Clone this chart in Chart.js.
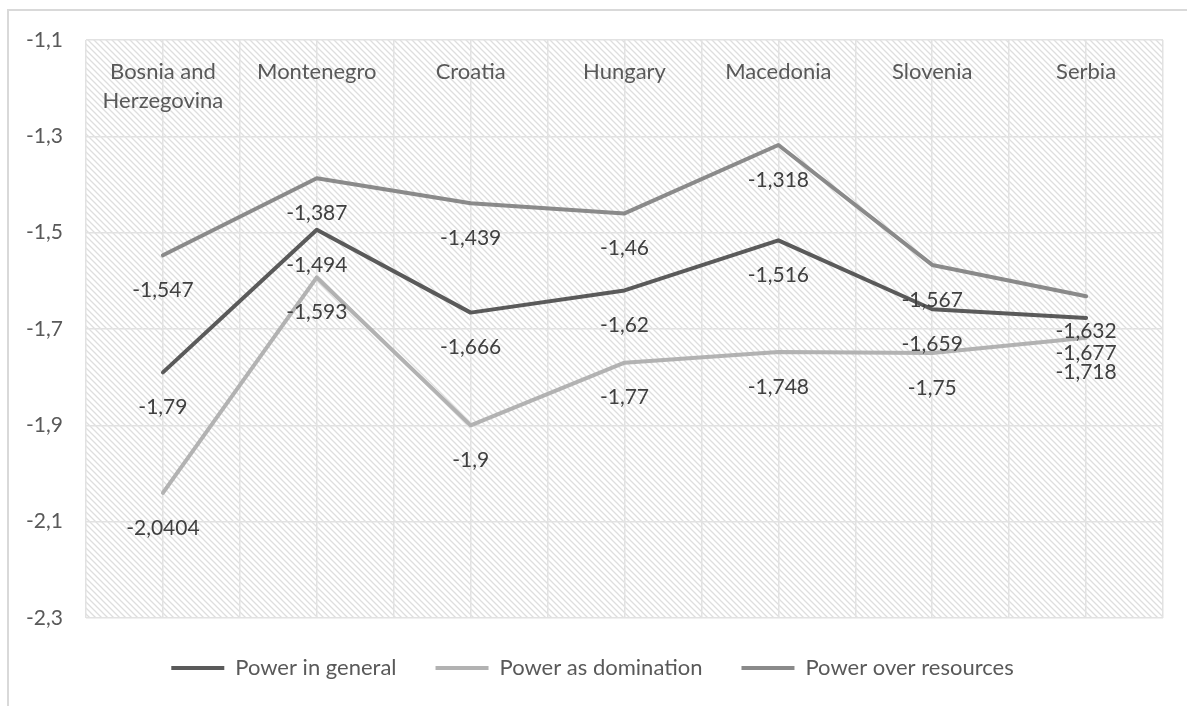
<!DOCTYPE html>
<html>
<head>
<meta charset="utf-8">
<script src="https://cdn.jsdelivr.net/npm/chart.js@4.4.0/dist/chart.umd.min.js"></script>
<style>
  html, body { margin: 0; padding: 0; background: #fff; overflow: hidden; }
  #wrap { position: relative; width: 1187px; height: 706px; }
  #frame { position: absolute; left: 7px; top: 9px; width: 1200px; height: 720px; border: 2px solid #d9d9d9; pointer-events: none; }
  canvas { position: absolute; left: 0; top: 0; }
</style>
</head>
<body>
<div id="wrap">
  <canvas id="power-chart" width="1187" height="706"></canvas>
  <div id="frame"></div>
</div>
<script>
var countries = [["Bosnia and", "Herzegovina"], "Montenegro", "Croatia", "Hungary", "Macedonia", "Slovenia", "Serbia"];
var powerGeneral = [-1.79, -1.494, -1.666, -1.62, -1.516, -1.659, -1.677];
var powerDomination = [-2.0404, -1.593, -1.9, -1.77, -1.748, -1.75, -1.718];
var powerResources = [-1.547, -1.387, -1.439, -1.46, -1.318, -1.567, -1.632];
var yTicks = [-2.3, -2.1, -1.9, -1.7, -1.5, -1.3, -1.1];

var gridColor = '#e2e2e2';
var textColor = '#595959';

Chart.defaults.font.family = 'Lato';
Chart.defaults.font.size = 21;

// diagonal stripes behind the plot
function stripes(ctx) {
	var c = document.createElement('canvas');
	c.width = 6; c.height = 6;
	var g = c.getContext('2d');
	g.fillStyle = '#fff';
	g.fillRect(0, 0, 6, 6);
	g.strokeStyle = '#dedede';
	g.lineWidth = 1.3;
	g.beginPath();
	g.moveTo(-1, -1); g.lineTo(7, 7);
	g.moveTo(-1, 5); g.lineTo(1, 7);
	g.moveTo(5, -1); g.lineTo(7, 1);
	g.stroke();
	return ctx.createPattern(c, 'repeat');
}

var plotFill = {
	id: 'plotFill',
	beforeDraw: function(chart) {
		var a = chart.chartArea, ctx = chart.ctx;
		ctx.save();
		ctx.fillStyle = '#fff';
		ctx.fillRect(0, 0, chart.width, chart.height);
		ctx.fillStyle = stripes(ctx);
		ctx.fillRect(a.left, a.top, a.right - a.left, a.bottom - a.top);
		ctx.restore();
	}
};

// value under every point, decimal comma
var valueLabels = {
	id: 'valueLabels',
	afterDatasetsDraw: function(chart) {
		var ctx = chart.ctx;
		ctx.save();
		ctx.font = '21px Lato';
		ctx.fillStyle = '#404040';
		ctx.textAlign = 'center';
		ctx.textBaseline = 'middle';
		chart.data.datasets.forEach(function(ds, i) {
			chart.getDatasetMeta(i).data.forEach(function(pt, j) {
				ctx.fillText(String(ds.data[j]).replace('.', ','), pt.x, pt.y + 35);
			});
		});
		ctx.restore();
	}
};

function series(label, data, color) {
	return {
		label: label,
		data: data,
		borderColor: color,
		backgroundColor: color,
		borderWidth: 4,
		borderCapStyle: 'round',
		borderJoinStyle: 'round',
		pointRadius: 0,
		fill: false,
		tension: 0
	};
}

var ctx = document.getElementById('power-chart').getContext('2d');
var powerChart = new Chart(ctx, {
	type: 'line',
	data: {
		labels: countries,
		datasets: [
			series('Power in general', powerGeneral, '#5a5a5a'),
			series('Power as domination', powerDomination, '#b2b2b2'),
			series('Power over resources', powerResources, '#8a8a8a')
		]
	},
	options: {
		responsive: false,
		animation: false,
		devicePixelRatio: 1,
		layout: { padding: { top: 40, left: 22, right: 24, bottom: 17 } },
		plugins: {
			tooltip: { enabled: false },
			legend: {
				position: 'bottom',
				labels: {
					color: textColor,
					font: { size: 22 },
					usePointStyle: true,
					pointStyle: 'line',
					pointStyleWidth: 53,
					padding: 39
				}
			}
		},
		scales: {
			x: {
				position: 'top',
				offset: true,
				afterFit: function(s) { s.height = 0; },
				grid: { offset: true, color: gridColor, lineWidth: 1.5, drawTicks: false },
				border: { display: false },
				ticks: {
					color: textColor,
					mirror: true,
					padding: -11.4,
					maxRotation: 0,
					autoSkip: false,
					crossAlign: 'far',
					font: { size: 22, lineHeight: 1.32 }
				}
			},
			// second category axis only for the lines through the category centres
			x2: {
				type: 'category',
				position: 'top',
				offset: true,
				afterFit: function(s) { s.height = 0; },
				grid: { offset: false, color: gridColor, lineWidth: 1.5, drawTicks: false },
				border: { display: false },
				ticks: { display: false }
			},
			y: {
				min: -2.3,
				max: -1.1,
				afterFit: function(s) { s.width = 64; },
				afterBuildTicks: function(s) {
					s.ticks = yTicks.map(function(v) { return { value: v }; });
				},
				grid: { color: gridColor, lineWidth: 1.5, drawTicks: false },
				border: { display: false },
				ticks: {
					color: textColor,
					padding: 23,
					callback: function(v) { return v.toFixed(1).replace('.', ','); }
				}
			}
		}
	},
	plugins: [plotFill, valueLabels]
});
</script>
</body>
</html>
